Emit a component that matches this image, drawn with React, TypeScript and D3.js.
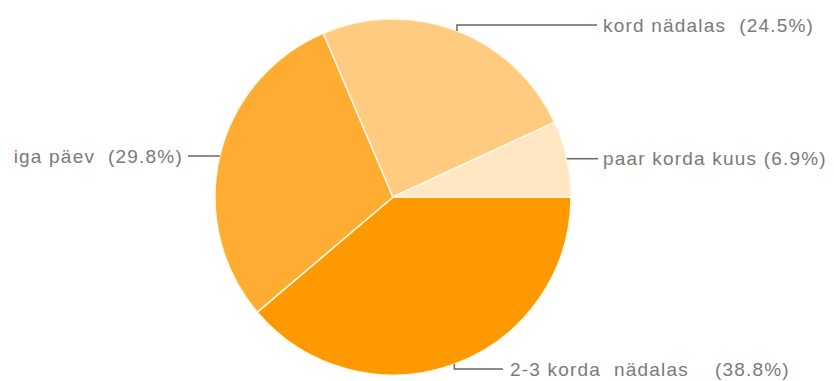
import React from "react";
import * as d3 from "d3";

const categories = ["2-3 korda  nädalas", "iga päev", "kord nädalas", "paar korda kuus"];
const labelTexts = ["2-3 korda  nädalas    (38.8%)", "iga päev  (29.8%)", "kord nädalas  (24.5%)", "paar korda kuus (6.9%)"];
const values = [38.8, 29.8, 24.5, 6.9];
const colors = ["#FF9900", "#FFAC33", "#FFCB80", "#FFE7C4"];

// layout of labels: [side, labelX, labelY or null (use anchor y)]
const labelLayout: { anchor: "start" | "end"; x: number; y: number | null; lineEnd: number }[] = [
  { anchor: "start", x: 510, y: 369, lineEnd: 503 },
  { anchor: "end", x: 183, y: null, lineEnd: 188 },
  { anchor: "start", x: 603, y: 25, lineEnd: 597 },
  { anchor: "start", x: 603, y: null, lineEnd: 598 },
];

export default function App() {
  const W = 834, H = 381;
  const cx = 393, cy = 197, r = 178;
  const pie = d3.pie<number>().sort(null).startAngle(Math.PI / 2).endAngle(Math.PI / 2 + 2 * Math.PI);
  const arcs = pie(values);
  const arc = d3.arc<d3.PieArcDatum<number>>().innerRadius(0).outerRadius(r);
  return (
    <svg width={W} height={H} style={{ position: "absolute", left: 0, top: 0, background: "#fff" }}>
      <g transform={`translate(${cx},${cy})`}>
        {arcs.map((a, i) => (
          <path key={i} d={arc(a) || ""} fill={colors[i]} stroke="#FFF8E6" strokeWidth={1.5} />
        ))}
      </g>
      {arcs.map((a, i) => {
        const mid = (a.startAngle + a.endAngle) / 2;
        const ax = cx + r * Math.sin(mid);
        const ay = cy - r * Math.cos(mid);
        const L = labelLayout[i];
        const ly = L.y === null ? ay : L.y;
        const path = `M${ax},${ay} L${ax},${ly} L${L.lineEnd},${ly}`;
        return (
          <g key={i}>
            <path d={path} fill="none" stroke="#666" strokeWidth={1.5} />
            <text
              x={L.x}
              y={ly}
              dy="0.35em"
              textAnchor={L.anchor}
              fill="#7a7a7a"
              fontFamily="Liberation Sans, Arial, sans-serif"
              fontSize={19}
              letterSpacing={1.2}
              style={{ whiteSpace: "pre" }}
            >
              {labelTexts[i]}
            </text>
          </g>
        );
      })}
    </svg>
  );
}
